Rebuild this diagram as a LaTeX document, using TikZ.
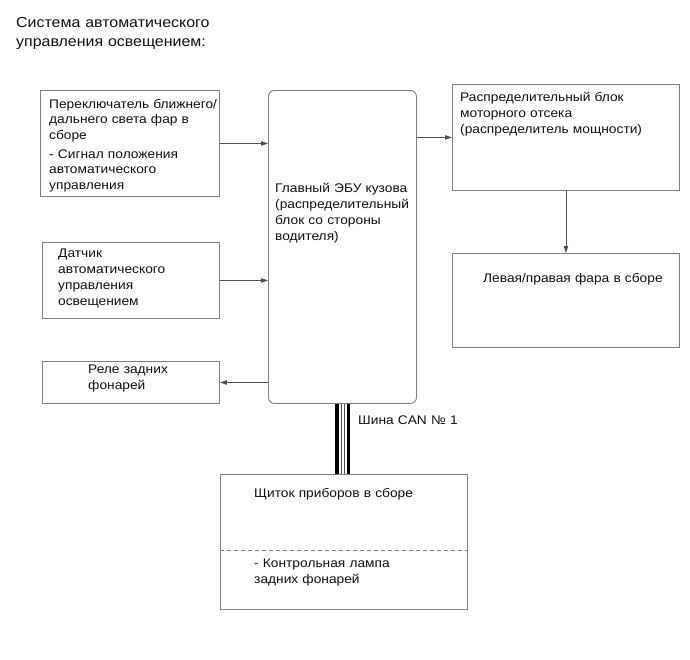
\documentclass[tikz,border=0pt]{standalone}
\usepackage{fontspec}
\setmainfont{Liberation Sans}[FakeStretch=1.1]
\usetikzlibrary{arrows.meta}
\definecolor{boxgray}{HTML}{808080}
\definecolor{linegray}{HTML}{505050}
\definecolor{txtcol}{HTML}{111111}
\begin{document}
\begin{tikzpicture}[x=1pt,y=-1pt,
  box/.style={draw=boxgray, line width=0.9pt, anchor=north west, inner sep=0pt, fill=white},
  txt/.style={anchor=base west, inner sep=0pt, text width=#1, align=left, text=txtcol,
              font=\fontsize{12.5}{16.3}\selectfont},
  arr/.style={draw=linegray, line width=0.8pt, -{Triangle[length=7pt,width=4.5pt]}},
  canthick/.style={draw=black, line width=3.3pt},
  canthin/.style={draw=black!70, line width=0.8pt}]
\useasboundingbox (0,0) rectangle (690,659);

% title
\node[txt=320pt, font=\fontsize{14.5}{19.5}\selectfont] (title) at (16,27)
  {Система автоматического\\управления освещением:};

% boxes
\node[box, minimum width=179pt, minimum height=106pt] (sw) at (40,90) {};
\node[box, minimum width=148pt, minimum height=313pt, rounded corners=6pt] (ecu) at (268,90) {};
\node[box, minimum width=227pt, minimum height=106pt] (pwr) at (452,84) {};
\node[box, minimum width=227pt, minimum height=94pt] (hl) at (452,253) {};
\node[box, minimum width=177pt, minimum height=76pt] (sen) at (42,242) {};
\node[box, minimum width=177pt, minimum height=42pt] (rel) at (42,361) {};
\node[box, minimum width=247pt, minimum height=135pt] (clu) at (220,474) {};

% texts
\node[txt=200pt, font=\fontsize{12.5}{15.5}\selectfont] (swt) at (49,108)
  {Переключатель ближнего/\\дальнего света фар в\\сборе\\[3.5pt]- Сигнал положения\\автоматического\\управления};
\node[txt=170pt] (ecut) at (275,192)
  {Главный ЭБУ кузова\\(распределительный\\блок со стороны\\водителя)};
\node[txt=230pt] (pwrt) at (460,101)
  {Распределительный блок\\моторного отсека\\(распределитель мощности)};
\node[txt=220pt] (hlt) at (483,282) {Левая/правая фара в сборе};
\node[txt=170pt] (sent) at (58,257)
  {Датчик\\автоматического\\управления\\освещением};
\node[txt=150pt] (relt) at (88,373) {Реле задних\\фонарей};
\node[txt=150pt] (cant) at (358,424) {Шина CAN № 1};
\node[txt=220pt] (clut1) at (254,497) {Щиток приборов в сборе};
\node[txt=220pt] (clut2) at (254,567) {- Контрольная лампа\\задних фонарей};

% dashed divider
\draw[boxgray, line width=0.8pt, dash pattern=on 4pt off 3pt] (clu.west |- 0,550) -- (clu.east |- 0,550);

% connectors
\draw[arr] (sw.east) -- (ecu.west |- sw.east);
\draw[arr] (sen.east) -- (ecu.west |- sen.east);
\draw[arr] (ecu.west |- rel.east) -- (rel.east);
\draw[arr] (ecu.east |- pwr.west) -- (pwr.west);
\draw[arr] (pwr.south) -- (hl.north);

% CAN bus
\draw[canthick] ([xshift=-5.5pt]ecu.south) -- ([xshift=-5.5pt]ecu.south |- clu.north);
\draw[canthin]  ([xshift=-1pt]ecu.south) -- ([xshift=-1pt]ecu.south |- clu.north);
\draw[canthin]  ([xshift=1.8pt]ecu.south) -- ([xshift=1.8pt]ecu.south |- clu.north);
\draw[canthick] ([xshift=6pt]ecu.south) -- ([xshift=6pt]ecu.south |- clu.north);
\end{tikzpicture}
\end{document}
